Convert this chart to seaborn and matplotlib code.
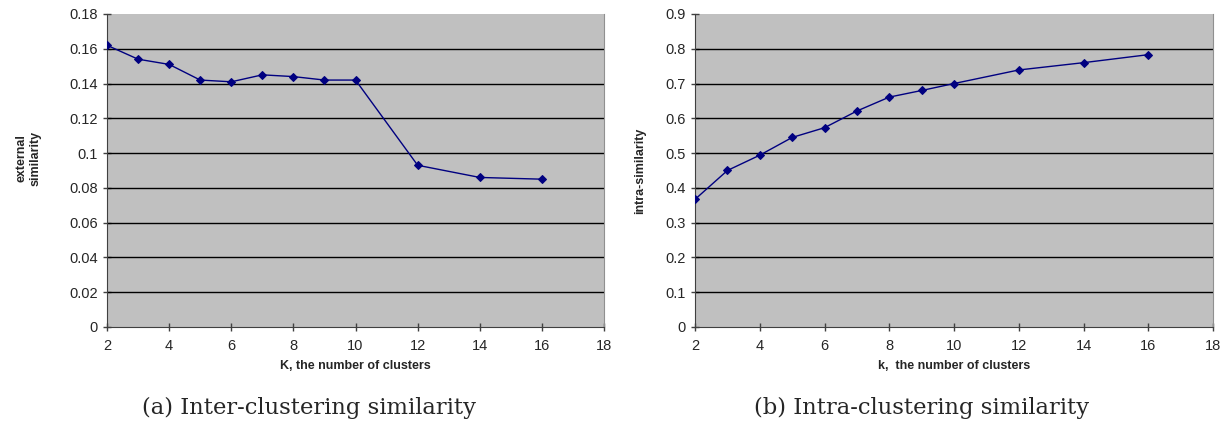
import numpy as np
import pandas as pd
import matplotlib.pyplot as plt
import seaborn as sns

# data
k_values = [2, 3, 4, 5, 6, 7, 8, 9, 10, 12, 14, 16]
inter_sim = [0.162, 0.154, 0.151, 0.142, 0.141, 0.145, 0.144, 0.142, 0.142, 0.093, 0.086, 0.085]
intra_sim = [0.367, 0.450, 0.494, 0.545, 0.573, 0.621, 0.661, 0.680, 0.700, 0.739, 0.760, 0.783]

df = pd.DataFrame({"k": k_values, "inter": inter_sim, "intra": intra_sim})

sns.set_style("white")
plt.rcParams['font.family'] = ['Liberation Sans', 'DejaVu Sans']

fig = plt.figure(figsize=(12.26, 4.25), dpi=100)
ax1 = fig.add_axes([0.0873, 0.2306, 0.4054, 0.7365])
ax2 = fig.add_axes([0.5669, 0.2306, 0.4225, 0.7365])

panels = [
    (ax1, "inter", (0, 0.18), np.arange(0, 0.181, 0.02), "external\nsimilarity",
     "K, the number of clusters", "(a) Inter-clustering similarity", ["0"] + ["%g" % v for v in np.arange(0.02, 0.181, 0.02).round(2)], 20, 0.252, 0.54),
    (ax2, "intra", (0, 0.9), np.arange(0, 0.91, 0.1), "intra-similarity",
     "k,  the number of clusters", "(b) Intra-clustering similarity", ["0"] + ["%g" % v for v in np.arange(0.1, 0.91, 0.1).round(1)], 14, 0.752, 0.5),
]

for ax, col, ylim, yticks, ylab, xlab, cap, ylabels, lpad, capx, ylab_y in panels:
    ax.set_facecolor("#c0c0c0")
    for v in yticks[1:-1]:
        ax.axhline(v, color="black", lw=1.0, zorder=1)
    sns.lineplot(data=df, x="k", y=col, ax=ax, color="#000080", lw=1.0,
                 marker="D", markersize=4.5, markeredgecolor="#000080", zorder=3)
    ax.set_xlim(2, 18)
    ax.set_ylim(*ylim)
    ax.set_xticks(range(2, 19, 2))
    ax.set_yticks(yticks)
    ax.set_yticklabels(ylabels)
    ax.tick_params(axis="both", direction="inout", length=6, width=1, color="#404040",
                   labelsize=10.5, left=True, bottom=True)
    ax.tick_params(axis="x", pad=6)
    ax.spines["top"].set_visible(False)
    ax.spines["right"].set_color("#909090")
    ax.spines["left"].set_color("#404040")
    ax.spines["bottom"].set_color("#404040")
    ax.set_xlabel(xlab, fontsize=9, fontweight="bold", labelpad=5)
    ax.set_ylabel(ylab, fontsize=9, fontweight="bold", labelpad=lpad)
    ax.yaxis.label.set_y(ylab_y)
    fig.text(capx, 1 - 408 / 425, cap, ha="center", va="center",
             fontsize=16.3, family="DejaVu Serif")

plt.savefig("out.png", dpi=100)
